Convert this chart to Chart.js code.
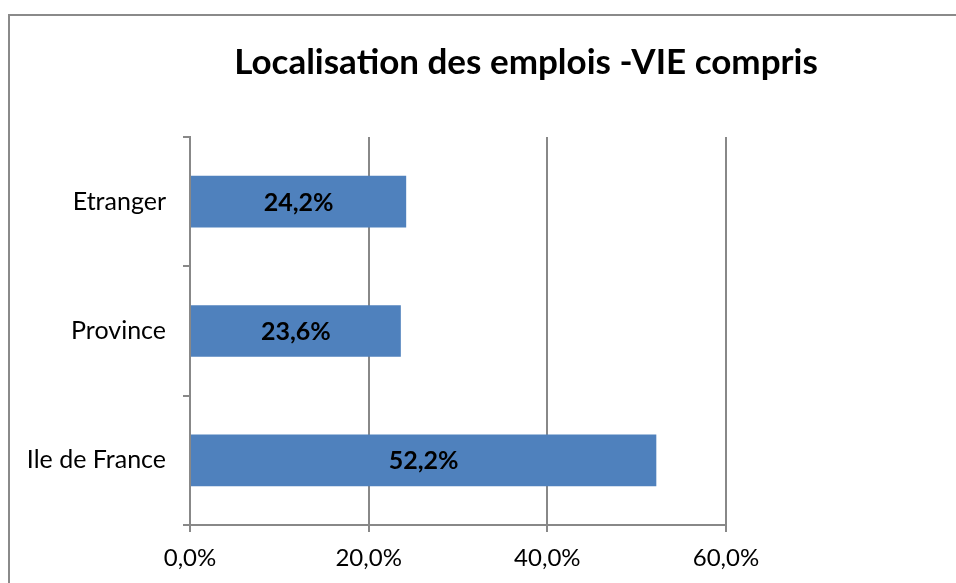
<!DOCTYPE html>
<html>
<head>
<meta charset="utf-8">
<script src="https://cdn.jsdelivr.net/npm/chart.js@4"></script>
<style>
    html, body { margin: 0; padding: 0; overflow: hidden; background: #fff; }
    #view { position: absolute; left: 0; top: 0; width: 956px; height: 583px; overflow: hidden; }
    #frame {
        position: absolute;
        left: 8px;
        top: 14px;
        width: 1032px;
        height: 600px;
        border-top: 2px solid #8a8a8a;
        border-left: 2px solid #8a8a8a;
    }
    canvas { display: block; }
</style>
</head>
<body>
<div id="view"><div id="frame"><canvas id="chart" width="1032" height="600"></canvas></div></div>
<script>
const categories = ['Etranger', 'Province', 'Ile de France'];
const shares = [24.2, 23.6, 52.2];
const xTicks = [0, 20, 40, 60];

const FONT = 'Lato';
const GREY = '#888888';

function pct(v) {
    return v.toFixed(1).replace('.', ',') + '%';
}

// writes the value in the middle of each bar
const barLabels = {
    id: 'barLabels',
    afterDatasetsDraw(chart) {
        const ctx = chart.ctx;
        const meta = chart.getDatasetMeta(0);
        ctx.save();
        ctx.font = 'bold 25px ' + FONT;
        ctx.fillStyle = '#000';
        ctx.textAlign = 'center';
        ctx.textBaseline = 'middle';
        meta.data.forEach((bar, i) => {
            const cx = (bar.x + bar.base) / 2;
            ctx.fillText(pct(shares[i]), cx, bar.y + 1);
        });
        ctx.restore();
    }
};

new Chart(document.getElementById('chart'), {
    type: 'bar',
    data: {
        labels: categories,
        datasets: [{
            data: shares,
            backgroundColor: '#4F81BD',
            borderWidth: 0,
            barPercentage: 0.4,
            categoryPercentage: 1
        }]
    },
    options: {
        indexAxis: 'y',
        responsive: false,
        animation: false,
        plugins: {
            legend: { display: false },
            tooltip: { enabled: false },
            title: {
                display: true,
                text: 'Localisation des emplois -VIE compris',
                color: '#000',
                font: { family: FONT, size: 35, weight: 'bold', lineHeight: 1.2 },
                padding: { top: 26, bottom: 53 }
            }
        },
        scales: {
            x: {
                min: 0,
                max: 60,
                afterBuildTicks: scale => { scale.ticks = xTicks.map(v => ({ value: v })); },
                afterFit: scale => { scale.height = 91; },
                grid: { color: GREY, lineWidth: 2, tickLength: 7 },
                border: { color: GREY, width: 2 },
                ticks: {
                    color: '#000',
                    padding: 12,
                    font: { family: FONT, size: 24 },
                    callback: v => pct(v)
                }
            },
            y: {
                afterFit: scale => { scale.width = 180; },
                grid: { drawOnChartArea: false, color: GREY, lineWidth: 2, tickLength: 7 },
                border: { color: GREY, width: 2 },
                ticks: {
                    color: '#000',
                    padding: 17,
                    font: { family: FONT, size: 25 }
                }
            },
            // empty right-hand space of the original plot frame
            spacer: {
                type: 'category',
                position: 'right',
                labels: [''],
                afterFit: scale => { scale.width = 316; },
                grid: { display: false },
                border: { display: false },
                ticks: { display: false }
            }
        }
    },
    plugins: [barLabels]
});
</script>
</body>
</html>
